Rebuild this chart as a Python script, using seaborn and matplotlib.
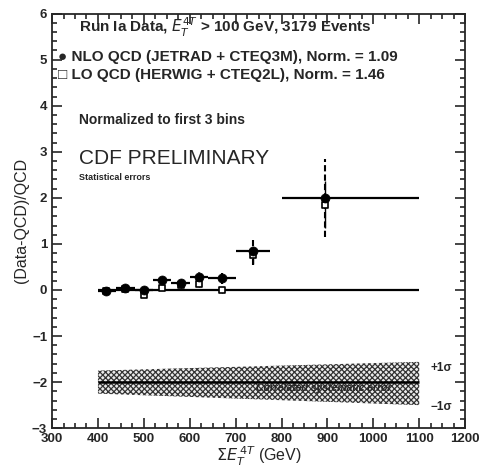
import numpy as np
import pandas as pd
import matplotlib
matplotlib.use("Agg")
import matplotlib.pyplot as plt
import seaborn as sns

# bins (GeV) and ratios
bin_lo = [400, 440, 480, 520, 560, 600, 640, 700, 800]
bin_hi = [440, 480, 520, 560, 600, 640, 700, 775, 1100]
x_pt = [418, 460, 500, 540, 580, 620, 670, 737, 895]
nlo = [-0.02, 0.05, 0.0, 0.22, 0.15, 0.28, 0.25, 0.85, 2.0]
lo = [-0.03, 0.03, -0.1, 0.05, 0.1, 0.12, 0.0, 0.75, 1.85]
err = [0.05, 0.05, 0.06, 0.07, 0.08, 0.10, 0.12, 0.30, 0.85]

# correlated systematic band
band_x = [400, 1100]
band_lo = [-2.25, -2.5]
band_hi = [-1.75, -1.56]

sns.set_style("ticks")
plt.rcParams['font.family'] = ['Liberation Sans', 'DejaVu Sans']
plt.rcParams['hatch.linewidth'] = 0.9

df = pd.DataFrame({"x": x_pt, "nlo": nlo, "lo": lo, "err": err,
                   "xl": np.array(x_pt) - np.array(bin_lo),
                   "xh": np.array(bin_hi) - np.array(x_pt)})

fig = plt.figure(figsize=(4.82, 4.70), dpi=100)
ax = fig.add_axes([0.108, 0.089, 0.857, 0.882])

ax.hlines(0, 400, 1100, color="black", lw=1.6)
ax.fill_between(band_x, band_lo, band_hi, facecolor="0.92", edgecolor="0.2",
                hatch="xxxxxx", lw=0)
ax.hlines(-2, 400, 1100, color="black", lw=1.8)

ax.errorbar(df["x"], df["nlo"], xerr=[df["xl"], df["xh"]],
            fmt="none", ecolor="black", elinewidth=1.6, capsize=0)
eb = ax.errorbar(df["x"], df["nlo"], yerr=df["err"], fmt="none",
                 ecolor="black", elinewidth=1.5, capsize=0)
eb[2][0].set_linestyle((0, (3, 1.5)))
ax.errorbar(df["x"], df["lo"], yerr=df["err"] * 0.6, fmt="none",
            ecolor="black", elinewidth=1.0, capsize=0)
sns.scatterplot(data=df, x="x", y="lo", marker="s", s=22, facecolor="white",
                edgecolor="black", linewidth=1.2, ax=ax, zorder=5)
sns.scatterplot(data=df, x="x", y="nlo", marker="o", s=42, color="black",
                edgecolor="black", ax=ax, zorder=6)

ax.set_xlim(300, 1200)
ax.set_ylim(-3, 6)
ax.set_xticks(np.arange(300, 1201, 100))
ax.set_xticks(np.arange(300, 1201, 25), minor=True)
ax.set_yticks(np.arange(-3, 7, 1))
ax.set_yticks(np.arange(-3, 6.01, 0.2), minor=True)
ax.tick_params(which="both", direction="in", top=True, right=True, width=1.2)
ax.tick_params(which="major", length=7, labelsize=9.5)
ax.tick_params(which="minor", length=3.5)
for lab in ax.get_xticklabels() + ax.get_yticklabels():
    lab.set_fontweight("bold")
for s in ax.spines.values():
    s.set_linewidth(1.3)

ax.set_xlabel(r"$\Sigma E_T^{\,4T}$ (GeV)", fontsize=11.5, labelpad=0)
ax.set_ylabel("(Data-QCD)/QCD", fontsize=11.5, labelpad=2)

kw = dict(fontsize=11, fontweight="bold", va="center")
ax.text(358, 5.7, r"Run Ia Data, $E_T^{4T}$ > 100 GeV, 3179 Events", **kw)
ax.text(312, 5.05, "\u25cf NLO QCD (JETRAD + CTEQ3M), Norm. = 1.09", **kw)
ax.text(312, 4.66, "\u25a1 LO QCD (HERWIG + CTEQ2L), Norm. = 1.46", **kw)
ax.text(358, 3.7, "Normalized to first 3 bins", fontsize=10, fontweight="bold",
        va="center")
ax.text(358, 2.85, "CDF PRELIMINARY", fontsize=15, va="center")
ax.text(358, 2.45, "Statistical errors", fontsize=6.5, fontweight="bold", va="center")
ax.text(1125, -1.7, "+1\u03c3", fontsize=8.5, fontweight="bold", va="center")
ax.text(1125, -2.55, "\u22121\u03c3", fontsize=8.5, fontweight="bold", va="center")
ax.text(1040, -2.12, "Correlated systematic error", fontsize=7.5, fontweight="bold",
        fontstyle="italic", ha="right", va="center")

fig.savefig("out.png", dpi=100)
